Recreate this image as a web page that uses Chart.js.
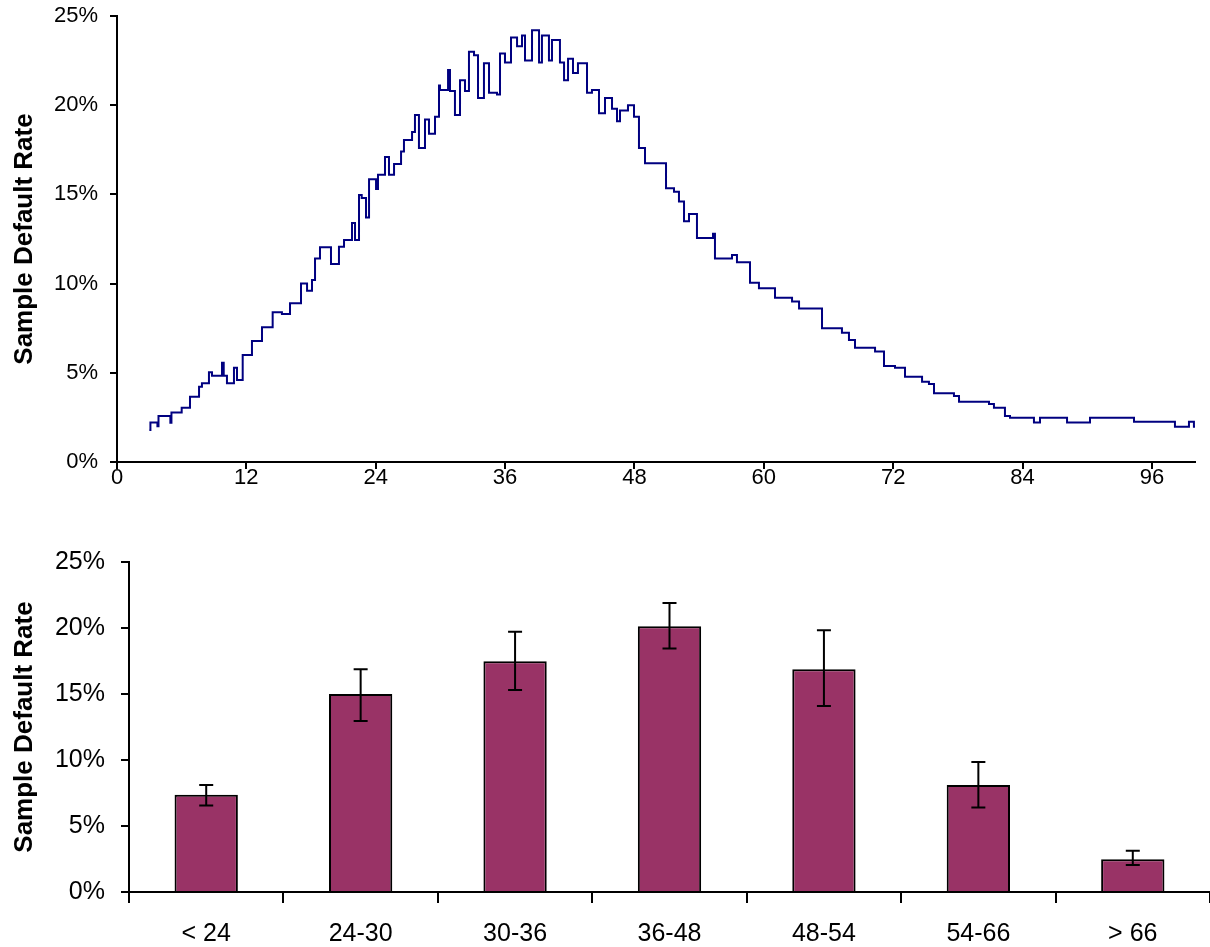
<!DOCTYPE html>
<html>
<head>
<meta charset="utf-8">
<script src="https://cdn.jsdelivr.net/npm/chart.js@4/dist/chart.umd.min.js"></script>
<style>
  body { margin: 0; background: #fff; }
  #wrapTop { position: absolute; left: 0; top: 0; width: 1210px; height: 500px; }
  #wrapBottom { position: absolute; left: 0; top: 545px; width: 1210px; height: 402px; }
</style>
</head>
<body>
<div id="wrapTop"><canvas id="lineChart" width="1210" height="500"></canvas></div>
<div id="wrapBottom"><canvas id="barChart" width="1210" height="402"></canvas></div>
<script>
// top chart: sample default rate by month (step line), value holds until next month point
const months = [3.0, 3.1, 3.75, 3.85, 4.95, 5.05, 6.0, 6.77, 7.61, 7.88, 8.53, 8.81, 9.74, 9.9, 10.2,
  10.85, 11.13, 11.66, 12.52, 13.45, 14.44, 15.3, 16.05, 17.07, 17.63, 18.09, 18.37, 18.83, 19.85,
  20.59, 21.06, 21.8, 22.08, 22.45, 22.7, 23.1, 23.38, 24.03, 24.21, 24.86, 25.23, 25.7, 26.35,
  26.62, 27.37, 27.64, 28.01, 28.57, 28.94, 29.5, 29.87, 29.96, 30.71, 30.89, 31.35, 31.82, 32.28,
  32.65, 33.12, 33.49, 34.04, 34.51, 35.25, 35.53, 35.99, 36.55, 37.11, 37.57, 37.85, 38.5, 39.15,
  39.42, 40.07, 40.35, 41.09, 41.47, 41.84, 42.3, 42.76, 43.6, 44.06, 44.71, 45.27, 45.92, 46.38,
  46.66, 47.4, 47.96, 48.42, 48.98, 50.93, 51.67, 52.13, 52.6, 53.06, 53.8, 55.29, 55.47, 57.05,
  57.51, 58.72, 59.55, 61.04, 62.62, 63.27, 65.4, 67.25, 67.9, 68.46, 70.32, 71.15, 72.17, 73.1,
  74.68, 75.32, 75.79, 77.64, 78.11, 80.89, 81.35, 82.37, 82.84, 85.06, 85.62, 88.13, 90.26, 94.34,
  98.14, 99.44, 99.9, 100];
const rates = [1.8, 2.22, 2.0, 2.58, 2.2, 2.78, 3.04, 3.66, 4.22, 4.41, 5.03, 4.84, 5.57, 4.84, 4.42,
  5.29, 4.6, 6.0, 6.78, 7.55, 8.39, 8.3, 8.9, 10.0, 9.6, 10.2, 11.4, 12.04, 11.1,
  12.07, 12.44, 13.4, 12.44, 14.97, 14.8, 13.7, 15.85, 15.3, 16.1, 17.1, 16.1, 16.7, 17.4,
  18.05, 18.5, 19.45, 17.6, 19.2, 18.4, 19.35, 21.1, 20.85, 21.97, 20.8, 19.45, 21.4, 20.8,
  23.0, 22.8, 20.4, 22.35, 20.7, 20.6, 22.9, 22.4, 23.8, 23.3, 23.9, 22.5, 24.2, 22.4,
  23.9, 22.5, 23.65, 22.4, 21.4, 22.6, 21.8, 22.35, 20.7, 20.85, 19.55, 20.4, 19.8, 19.1,
  19.7, 20.0, 19.35, 17.6, 16.75, 15.35, 15.15, 14.6, 13.5, 13.9, 12.55, 12.8, 11.4, 11.6,
  11.2, 10.05, 9.74, 9.2, 9.0, 8.6, 7.5, 7.25, 6.84, 6.4, 6.2, 5.38, 5.29, 4.78,
  4.5, 4.37, 3.85, 3.7, 3.38, 3.25, 3.04, 2.58, 2.48, 2.22, 2.48, 2.22, 2.48, 2.26,
  1.98, 2.26, 1.98, 1.98];
const monthTicks = [0, 12, 24, 36, 48, 60, 72, 84, 96];

// bottom chart: default rate by bucket with error bars
const buckets = ['< 24', '24-30', '30-36', '36-48', '48-54', '54-66', '> 66'];
const bucketRates = [7.36, 15.0, 17.49, 20.14, 16.88, 8.11, 2.49];
const bucketLow = [6.55, 12.95, 15.3, 18.45, 14.09, 6.4, 2.04];
const bucketHigh = [8.11, 16.88, 19.71, 21.9, 19.83, 9.85, 3.12];

Chart.defaults.font.family = 'Arial, "Liberation Sans", sans-serif';
Chart.defaults.color = '#000';

const pct = v => v + '%';
// keep the plot area where the layout padding puts it
const noEdgePad = s => { s.paddingTop = 0; s.paddingBottom = 0; s.paddingLeft = 0; s.paddingRight = 0; };

new Chart(document.getElementById('lineChart').getContext('2d'), {
  type: 'line',
  data: {
    datasets: [{
      data: months.map((m, i) => ({ x: m, y: rates[i] })),
      borderColor: '#000080',
      borderWidth: 2,
      pointRadius: 0,
      stepped: 'before',
      fill: false
    }]
  },
  options: {
    responsive: false,
    animation: false,
    layout: { padding: { top: 16, right: 15, left: 0, bottom: 0 } },
    plugins: { legend: { display: false }, tooltip: { enabled: false } },
    scales: {
      x: {
        type: 'linear',
        min: 0,
        max: 100,
        ticks: { font: { size: 22 }, padding: -4, maxRotation: 0, autoSkip: false },
        afterBuildTicks: s => { s.ticks = monthTicks.map(v => ({ value: v })); },
        afterFit: s => { s.height = 38; noEdgePad(s); },
        grid: { drawOnChartArea: false, color: '#000', lineWidth: 2, tickLength: 7 },
        border: { color: '#000', width: 2 }
      },
      y: {
        min: 0,
        max: 25,
        ticks: { stepSize: 5, callback: pct, font: { size: 22 }, padding: 12 },
        afterFit: s => { s.width = 117; noEdgePad(s); },
        grid: { drawOnChartArea: false, color: '#000', lineWidth: 2, tickLength: 7 },
        border: { color: '#000', width: 2 },
        title: { display: true, text: 'Sample Default Rate', font: { size: 26, weight: 'bold' }, padding: { top: 9, bottom: 0 } }
      }
    }
  }
});

const errorBars = {
  id: 'errorBars',
  afterDatasetsDraw(chart) {
    const ctx = chart.ctx;
    const meta = chart.getDatasetMeta(0);
    const y = chart.scales.y;
    ctx.save();
    ctx.strokeStyle = '#000';
    ctx.lineWidth = 2;
    meta.data.forEach((bar, i) => {
      const yl = y.getPixelForValue(bucketLow[i]);
      const yh = y.getPixelForValue(bucketHigh[i]);
      ctx.beginPath();
      ctx.moveTo(bar.x, yl); ctx.lineTo(bar.x, yh);
      ctx.moveTo(bar.x - 7, yl); ctx.lineTo(bar.x + 7, yl);
      ctx.moveTo(bar.x - 7, yh); ctx.lineTo(bar.x + 7, yh);
      ctx.stroke();
    });
    ctx.restore();
  }
};

new Chart(document.getElementById('barChart').getContext('2d'), {
  type: 'bar',
  data: {
    labels: buckets,
    datasets: [{
      data: bucketRates,
      backgroundColor: '#993366',
      borderColor: '#000',
      borderWidth: 2,
      barPercentage: 0.41,
      categoryPercentage: 1
    }]
  },
  options: {
    responsive: false,
    animation: false,
    layout: { padding: { top: 17, right: 0, left: 0, bottom: 0 } },
    plugins: { legend: { display: false }, tooltip: { enabled: false } },
    scales: {
      x: {
        ticks: { font: { size: 25 }, padding: 16, maxRotation: 0 },
        afterFit: s => { s.height = 55; noEdgePad(s); },
        grid: { drawOnChartArea: false, color: '#000', lineWidth: 2, tickLength: 11, offset: true },
        border: { color: '#000', width: 2 }
      },
      y: {
        min: 0,
        max: 25,
        ticks: { stepSize: 5, callback: pct, font: { size: 25 }, padding: 16 },
        afterFit: s => { s.width = 129; noEdgePad(s); },
        grid: { drawOnChartArea: false, color: '#000', lineWidth: 2, tickLength: 8 },
        border: { color: '#000', width: 2 },
        title: { display: true, text: 'Sample Default Rate', font: { size: 26, weight: 'bold' }, padding: { top: 9, bottom: 0 } }
      }
    }
  },
  plugins: [errorBars]
});
</script>
</body>
</html>
